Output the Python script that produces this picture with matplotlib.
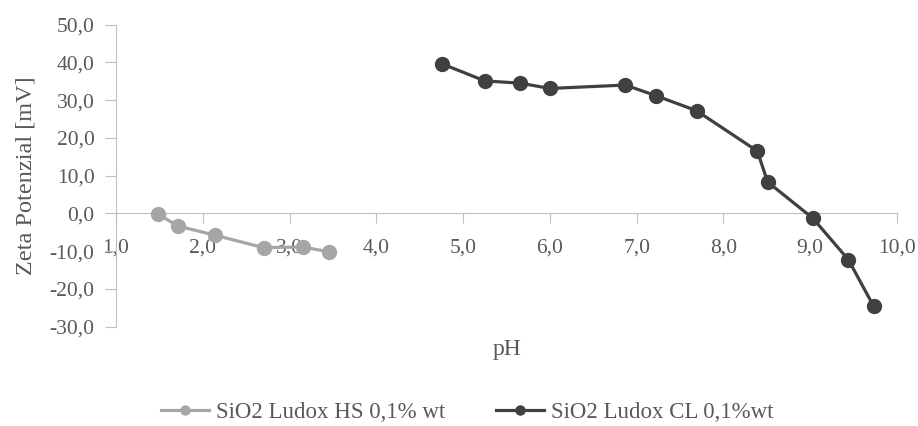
import matplotlib.pyplot as plt
from matplotlib.ticker import FuncFormatter, MultipleLocator

# SiO2 Ludox HS 0.1% wt
ph_hs = [1.48, 1.72, 2.14, 2.70, 3.15, 3.45]
zeta_hs = [-0.2, -3.4, -5.8, -9.1, -8.9, -10.2]

# SiO2 Ludox CL 0.1% wt
ph_cl = [4.76, 5.25, 5.66, 6.00, 6.87, 7.22, 7.69, 8.39, 8.51, 9.03, 9.44, 9.73]
zeta_cl = [39.6, 35.1, 34.5, 33.1, 34.0, 31.2, 27.2, 16.5, 8.3, -1.3, -12.3, -24.6]

labels = ['SiO2 Ludox HS 0,1% wt', 'SiO2 Ludox CL 0,1%wt']
colors = ['#a6a6a6', '#404040']

txt = '#595959'
axc = '#bfbfbf'
plt.rcParams['font.family'] = ['Liberation Serif', 'DejaVu Serif']

fig = plt.figure(figsize=(9.18, 4.26), dpi=100)
ax = fig.add_axes([116 / 918, 1 - 326.5 / 426, (897 - 116) / 918, (326.5 - 24.7) / 426])

ax.plot(ph_hs, zeta_hs, color=colors[0], lw=2.3, marker='o', ms=10, label=labels[0])
ax.plot(ph_cl, zeta_cl, color=colors[1], lw=2.3, marker='o', ms=10, label=labels[1])

ax.set_xlim(1, 10)
ax.set_ylim(-30, 50)
ax.xaxis.set_major_locator(MultipleLocator(1))
ax.yaxis.set_major_locator(MultipleLocator(10))
fmt = FuncFormatter(lambda v, p: ('%.1f' % v).replace('.', ','))
ax.xaxis.set_major_formatter(fmt)
ax.yaxis.set_major_formatter(fmt)

for s in ['top', 'right']:
    ax.spines[s].set_visible(False)
ax.spines['bottom'].set_position(('data', 0))
ax.spines['bottom'].set_color(axc)
ax.spines['left'].set_color(axc)
ax.spines['bottom'].set_zorder(0)

ax.tick_params(axis='x', direction='out', length=7, color=axc, pad=11,
               labelsize=15.5, labelcolor=txt)
ax.tick_params(axis='y', direction='out', length=8, color=axc, pad=7.5,
               labelsize=15.5, labelcolor=txt)

ax.set_ylabel('Zeta Potenzial [mV]', fontsize=17.5, color=txt, labelpad=9)
ax.text(0.5, -0.076, 'pH', transform=ax.transAxes, ha='center', va='center',
        fontsize=17, color=txt)

leg = fig.legend(loc='center', bbox_to_anchor=(467 / 918, 1 - 412 / 426), ncol=2,
                 frameon=False, fontsize=16.5, handlelength=2.1, columnspacing=2.2,
                 handletextpad=0.3, markerscale=0.65, labelcolor=txt)

plt.savefig('out.png', dpi=100)
